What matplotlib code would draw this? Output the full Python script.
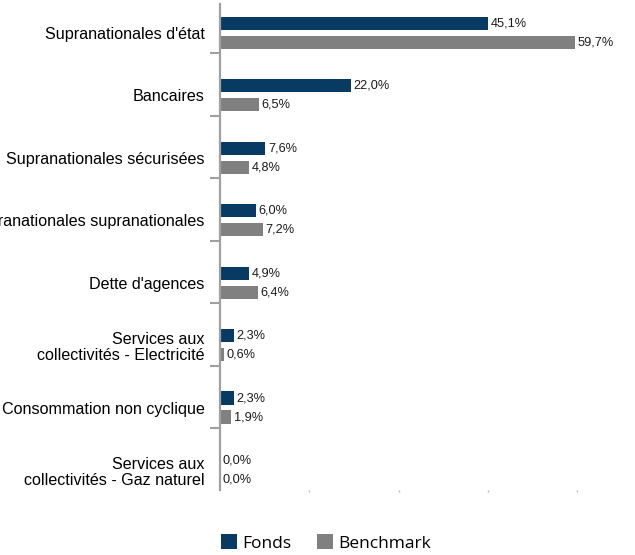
import numpy as np
import matplotlib
matplotlib.use("Agg")
import matplotlib.pyplot as plt

categories = [
    "Supranationales d'état",
    "Bancaires",
    "Supranationales sécurisées",
    "Supranationales supranationales",
    "Dette d'agences",
    "Services aux\ncollectivités - Electricité",
    "Consommation non cyclique",
    "Services aux\ncollectivités - Gaz naturel",
]
fonds = [45.1, 22.0, 7.6, 6.0, 4.9, 2.3, 2.3, 0.0]
benchmark = [59.7, 6.5, 4.8, 7.2, 6.4, 0.6, 1.9, 0.0]
series_names = ["Fonds", "Benchmark"]

FONDS_COLOR = "#073b63"
BENCH_COLOR = "#808080"

plt.rcParams["font.family"] = ["Liberation Sans", "DejaVu Sans"]

fig = plt.figure(figsize=(6.35, 5.55), dpi=100)
ax = fig.add_axes([220 / 635, 1 - 490 / 555, (577 - 220) / 635, (490 - 4) / 555])

y = np.arange(len(categories))
h = 0.21
off = 0.152

b1 = ax.barh(y - off, fonds, height=h, color=FONDS_COLOR, label=series_names[0])
b2 = ax.barh(y + off, benchmark, height=h, color=BENCH_COLOR, label=series_names[1])

fmt = lambda v: f"{v:.1f}%".replace(".", ",")
ax.bar_label(b1, labels=[fmt(v) for v in fonds], padding=2, fontsize=9.2, color="#1a1a1a")
ax.bar_label(b2, labels=[fmt(v) for v in benchmark], padding=2, fontsize=9.2, color="#1a1a1a")

ax.set_xlim(0, 60)
ax.set_ylim(7.32, -0.46)

# category labels at bar centres, tick marks between categories
ax.set_yticks(y)
ax.set_yticklabels(categories, fontsize=11.6, linespacing=1.1)
ax.tick_params(axis="y", which="major", length=0, pad=11)
ax.set_yticks(y[:-1] + 0.33, minor=True)
ax.tick_params(axis="y", which="minor", length=7, width=1.5, color="#a0a0a0")

ax.set_xticks([15, 30, 45, 60])
ax.set_xticklabels([])
ax.tick_params(axis="x", length=1.5, width=1, color="#c0c0c0")

for s in ["top", "right", "bottom"]:
    ax.spines[s].set_visible(False)
ax.spines["left"].set_color("#a0a0a0")
ax.spines["left"].set_linewidth(1.6)

fig.legend(loc="center", bbox_to_anchor=(326 / 635, 1 - 543 / 555), ncol=2, frameon=False,
           prop={"family": "Open Sans", "size": 12.5}, handlelength=0.9, handleheight=0.9,
           handletextpad=0.3, columnspacing=1.5)

fig.savefig("out.png", dpi=100)
